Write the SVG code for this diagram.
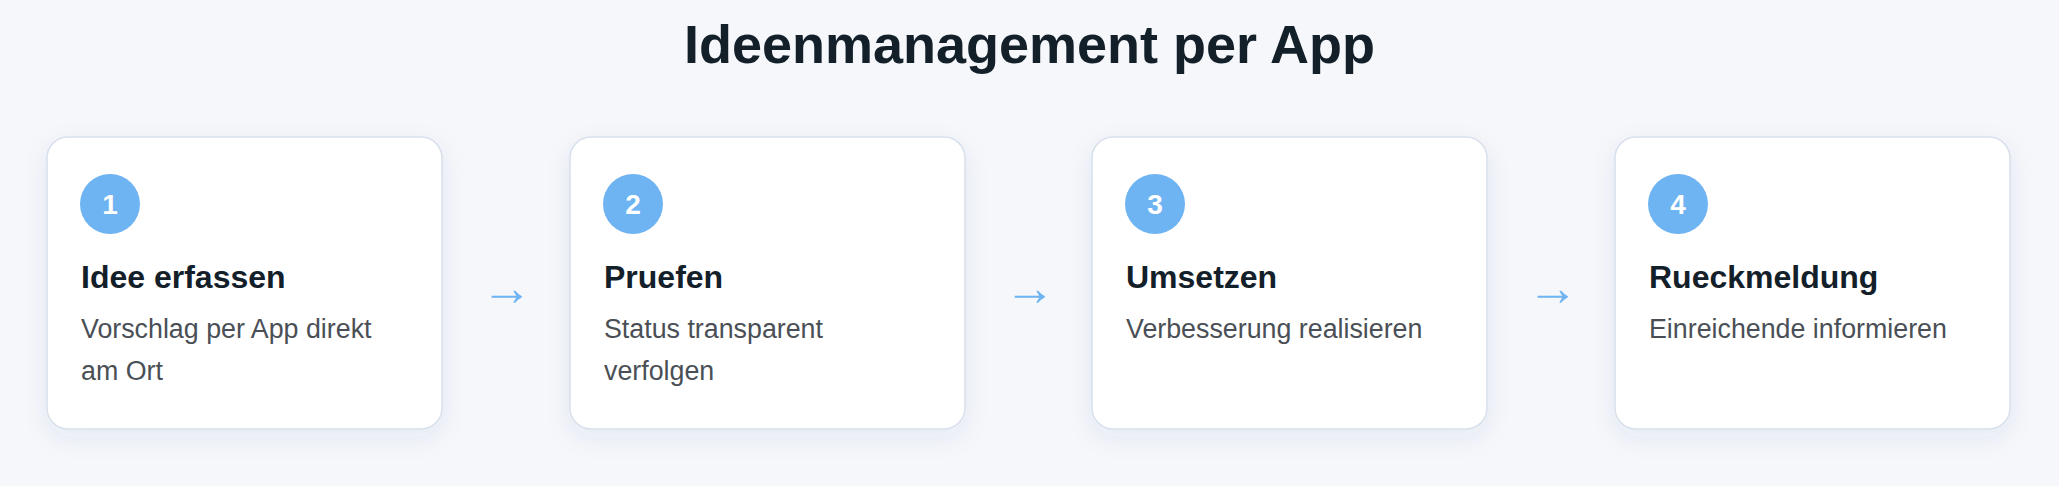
<svg xmlns="http://www.w3.org/2000/svg" width="2059" height="486" viewBox="0 0 2059 486">
<defs>
<filter id="shadow" x="-20%" y="-20%" width="140%" height="150%">
<feDropShadow dx="0" dy="8" stdDeviation="12" flood-color="#1e3c78" flood-opacity="0.07"/>
</filter>
<style>
.card{fill:#ffffff;stroke:#d8e0ec;stroke-width:1.5;filter:url(#shadow)}
.badge{fill:#6eb3f2}
.num{font-family:"Liberation Sans",Arial,sans-serif;font-weight:bold;font-size:28px;fill:#ffffff;text-anchor:middle}
.ttl{font-family:"Liberation Sans",Arial,sans-serif;font-weight:bold;font-size:32px;fill:#13202a}
.desc{font-family:"Liberation Sans",Arial,sans-serif;font-size:26.8px;fill:#4a4f56}
.arrow{font-family:"Liberation Sans",Arial,sans-serif;font-size:51px;fill:#6eb3f2;text-anchor:middle}
.head{font-family:"Liberation Sans",Arial,sans-serif;font-weight:bold;font-size:54px;fill:#13202a;text-anchor:middle}
</style>
</defs>
<rect x="0" y="0" width="2059" height="486" fill="#f5f7fb"/>
<text class="head" x="1029.5" y="63">Ideenmanagement per App</text>
<g id="connectors">
<text class="arrow" x="507" y="304.5">→</text>
<text class="arrow" x="1030" y="304.5">→</text>
<text class="arrow" x="1553" y="304.5">→</text>
</g>
<g id="step1">
<rect class="card" x="47" y="137" width="395" height="292" rx="21"/>
<circle class="badge" cx="110" cy="204" r="30"/>
<text class="num" x="110" y="214">1</text>
<text class="ttl" x="81" y="288">Idee erfassen</text>
<text class="desc" x="81" y="338">Vorschlag per App direkt</text>
<text class="desc" x="81" y="380">am Ort</text>
</g>
<g id="step2">
<rect class="card" x="570" y="137" width="395" height="292" rx="21"/>
<circle class="badge" cx="633" cy="204" r="30"/>
<text class="num" x="633" y="214">2</text>
<text class="ttl" x="604" y="288">Pruefen</text>
<text class="desc" x="604" y="338">Status transparent</text>
<text class="desc" x="604" y="380">verfolgen</text>
</g>
<g id="step3">
<rect class="card" x="1092" y="137" width="395" height="292" rx="21"/>
<circle class="badge" cx="1155" cy="204" r="30"/>
<text class="num" x="1155" y="214">3</text>
<text class="ttl" x="1126" y="288">Umsetzen</text>
<text class="desc" x="1126" y="338">Verbesserung realisieren</text>
</g>
<g id="step4">
<rect class="card" x="1615" y="137" width="395" height="292" rx="21"/>
<circle class="badge" cx="1678" cy="204" r="30"/>
<text class="num" x="1678" y="214">4</text>
<text class="ttl" x="1649" y="288">Rueckmeldung</text>
<text class="desc" x="1649" y="338">Einreichende informieren</text>
</g>
</svg>
